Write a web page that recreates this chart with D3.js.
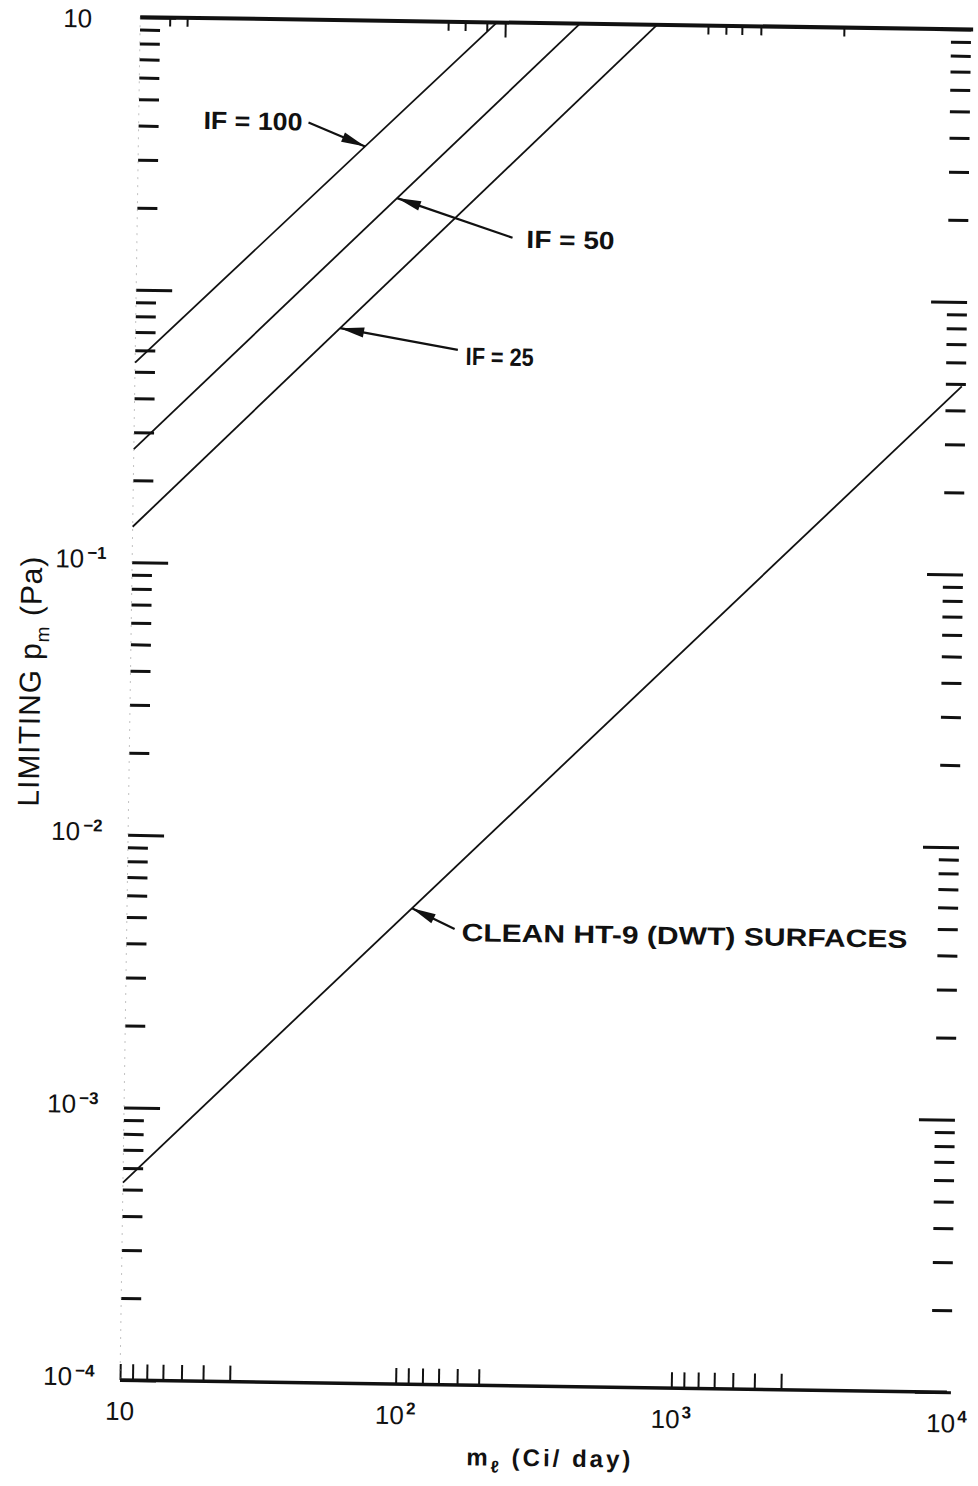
<!DOCTYPE html>
<html>
<head>
<meta charset="utf-8">
<script src="https://cdnjs.cloudflare.com/ajax/libs/d3/7.8.5/d3.min.js"></script>
<style>
body { margin: 0; background: #fff; }
svg { display: block; }
</style>
</head>
<body>
<svg id="chart" width="978" height="1486"></svg>
<script>
var W = 978, H = 1486;
var plot = { left: 120, right: 947, top: 17, bottom: 1380 };
var tilt = 0.85; // the scan sits a little crooked, so does the chart

// axis ranges
var xDomain = [10, 10000];
var yDomain = [1e-4, 10];

// tick values (the bottom paper ticks run the "wrong" way, as on the scan)
var yMajorTicks = [1e-4, 1e-3, 1e-2, 1e-1, 1, 10];
var yMinorSteps = [2, 3, 4, 5, 6, 7, 8, 9];
var xBottomTicks = [10, 11.1, 12.5, 14.3, 16.7, 20, 25,
                    100, 111, 125, 143, 167, 200,
                    1000, 1110, 1250, 1430, 1670, 2000, 2500];
var xTopTicks = [12.8, 14.8, 131, 151, 181, 1148, 1334, 1524, 1786, 3573];
var xTopLong = [211];

// tick labels
var xLabelValues = [10, 100, 1000, 10000];
var xLabelPowers = ["", "2", "3", "4"];
var yLabelValues = [10, 1e-1, 1e-2, 1e-3, 1e-4];
var yLabelPowers = ["", "\u22121", "\u22122", "\u22123", "\u22124"];

// straight lines, end points
var lineNames = ["IF = 100", "IF = 50", "IF = 25", "CLEAN HT-9 (DWT) SURFACES"];
var lineStart = [[10, 0.54], [10, 0.26], [10, 0.135], [10, 5.3e-4]];
var lineEnd = [[197, 10], [394, 10], [750, 10], [10000, 0.49]];
var arrowAt = [66.5, 87.4, 55.2, 108]; // m where each arrow touches its line

// where the callout texts sit, relative to the arrow tip
var callouts = [
    { tail: [-57, -23], text: [-63, -15], anchor: "end", len: 99 },
    { tail: [116, 38], text: [130, 48], anchor: "start", len: 88 },
    { tail: [118, 20], text: [126, 35], anchor: "start", len: 68 },
    { tail: [43, 20], text: [50, 32], anchor: "start", len: 446 }
];

var ink = "#111";
var font = "'Liberation Sans', Arial, sans-serif";

var x = d3.scaleLog().domain(xDomain).range([plot.left, plot.right]);
var y = d3.scaleLog().domain(yDomain).range([plot.bottom, plot.top]);

var svg = d3.select("#chart");
svg.append("rect").attr("width", W).attr("height", H).attr("fill", "#fff");

var g = svg.append("g")
    .attr("transform", "rotate(" + tilt + "," + plot.left + "," + plot.bottom + ")");

// minor y ticks: 2..9 in every decade
var yMinorTicks = [];
yMajorTicks.slice(0, -1).forEach(function (d) {
    yMinorSteps.forEach(function (s) { yMinorTicks.push(d * s); });
});

function tickAxis(axis, tx, ty, width) {
    var a = g.append("g")
        .attr("transform", "translate(" + tx + "," + ty + ")")
        .call(axis);
    a.select(".domain").remove();
    a.selectAll("text").remove();
    a.selectAll("line").attr("stroke", ink).attr("stroke-width", width);
    return a;
}

// left ticks point inward
tickAxis(d3.axisLeft(y).tickValues(yMinorTicks).tickSizeInner(-20).tickSizeOuter(0), plot.left, 0, 3);
tickAxis(d3.axisLeft(y).tickValues(yMajorTicks).tickSizeInner(-36).tickSizeOuter(0), plot.left, 0, 3);
// right ticks
tickAxis(d3.axisRight(y).tickValues(yMinorTicks).tickSizeInner(-20).tickSizeOuter(0), plot.right + 4, 0, 3);
tickAxis(d3.axisRight(y).tickValues(yMajorTicks).tickSizeInner(-36).tickSizeOuter(0), plot.right + 4, 0, 3);
// bottom and top ticks
tickAxis(d3.axisBottom(x).tickValues(xBottomTicks).tickSizeInner(-16).tickSizeOuter(0), 0, plot.bottom, 2);
tickAxis(d3.axisTop(x).tickValues(xTopTicks).tickSizeInner(-9).tickSizeOuter(0), 0, plot.top, 2);
tickAxis(d3.axisTop(x).tickValues(xTopLong).tickSizeInner(-15).tickSizeOuter(0), 0, plot.top, 2);

// frame: heavy top and bottom rules, a faint left edge
g.append("line")
    .attr("x1", plot.left).attr("x2", plot.right + 6)
    .attr("y1", plot.top).attr("y2", plot.top)
    .attr("stroke", ink).attr("stroke-width", 4);
g.append("line")
    .attr("x1", plot.left).attr("x2", plot.right)
    .attr("y1", plot.bottom).attr("y2", plot.bottom)
    .attr("stroke", ink).attr("stroke-width", 3.5);
g.append("line")
    .attr("x1", plot.left).attr("x2", plot.left)
    .attr("y1", plot.top).attr("y2", plot.bottom)
    .attr("stroke", "#888").attr("stroke-width", 1)
    .attr("stroke-dasharray", "2,6").attr("opacity", 0.5);

// the lines
var path = d3.line().x(function (d) { return x(d[0]); }).y(function (d) { return y(d[1]); });
lineNames.forEach(function (name, i) {
    g.append("path")
        .attr("d", path([lineStart[i], lineEnd[i]]))
        .attr("fill", "none")
        .attr("stroke", ink)
        .attr("stroke-width", 1.8);
});

function lineValue(i, m) {
    var a = lineStart[i], b = lineEnd[i];
    var t = (Math.log(m) - Math.log(a[0])) / (Math.log(b[0]) - Math.log(a[0]));
    return Math.exp(Math.log(a[1]) + t * (Math.log(b[1]) - Math.log(a[1])));
}

// callouts: leader, arrow head, text
lineNames.forEach(function (name, i) {
    var c = callouts[i];
    var tip = [x(arrowAt[i]), y(lineValue(i, arrowAt[i]))];
    var tail = [tip[0] + c.tail[0], tip[1] + c.tail[1]];
    var dx = tip[0] - tail[0], dy = tip[1] - tail[1];
    var len = Math.sqrt(dx * dx + dy * dy);
    var ux = dx / len, uy = dy / len;
    var bx = tip[0] - ux * 24, by = tip[1] - uy * 24;

    g.append("line")
        .attr("x1", tail[0]).attr("y1", tail[1])
        .attr("x2", tip[0]).attr("y2", tip[1])
        .attr("stroke", ink).attr("stroke-width", 2.2);
    g.append("path")
        .attr("d", "M" + tip[0] + "," + tip[1] +
            "L" + (bx - uy * 5) + "," + (by + ux * 5) +
            "L" + (bx + uy * 5) + "," + (by - ux * 5) + "Z")
        .attr("fill", ink);
    g.append("text")
        .attr("x", tip[0] + c.text[0])
        .attr("y", tip[1] + c.text[1])
        .attr("text-anchor", c.anchor)
        .attr("textLength", c.len)
        .attr("lengthAdjust", "spacingAndGlyphs")
        .attr("font-family", font)
        .attr("font-weight", "bold")
        .attr("font-size", 25)
        .attr("fill", ink)
        .text(name);
});

// x tick labels
xLabelValues.forEach(function (v, i) {
    var t = g.append("text")
        .attr("x", x(v))
        .attr("y", plot.bottom + 40)
        .attr("text-anchor", "middle")
        .attr("font-family", font)
        .attr("font-size", 26)
        .attr("fill", ink);
    t.append("tspan").text("10");
    if (xLabelPowers[i]) {
        t.append("tspan")
            .attr("dx", 2)
            .attr("dy", -10)
            .attr("font-size", 17)
            .attr("font-weight", "bold")
            .text(xLabelPowers[i]);
    }
});

// y tick labels
yLabelValues.forEach(function (v, i) {
    var ty = y(v) + (i === 0 ? 11 : 6);
    g.append("text")
        .attr("x", plot.left - 48)
        .attr("y", ty)
        .attr("text-anchor", "end")
        .attr("font-family", font)
        .attr("font-size", 26)
        .attr("fill", ink)
        .text("10");
    if (yLabelPowers[i]) {
        g.append("text")
            .attr("x", plot.left - 45)
            .attr("y", ty - 9)
            .attr("font-family", font)
            .attr("font-size", 17)
            .attr("font-weight", "bold")
            .attr("fill", ink)
            .text(yLabelPowers[i]);
    }
});

// axis titles
var xt = g.append("text")
    .attr("x", (plot.left + plot.right) / 2 + 16)
    .attr("y", plot.bottom + 80)
    .attr("text-anchor", "middle")
    .attr("textLength", 164)
    .attr("lengthAdjust", "spacing")
    .attr("font-family", font)
    .attr("font-weight", "bold")
    .attr("font-size", 24)
    .attr("fill", ink);
xt.append("tspan").text("m");
xt.append("tspan").attr("dy", 7).attr("font-size", 17).text("\u2113");
xt.append("tspan").attr("dy", -7).text(" (Ci/ day)");

var yt = g.append("text")
    .attr("transform", "translate(" + 30 + "," + 683 + ") rotate(-90)")
    .attr("text-anchor", "middle")
    .attr("textLength", 250)
    .attr("lengthAdjust", "spacing")
    .attr("font-family", font)
    .attr("font-size", 30)
    .attr("fill", ink);
yt.append("tspan").text("LIMITING p");
yt.append("tspan").attr("dy", 8).attr("font-size", 19).text("m");
yt.append("tspan").attr("dy", -8).text(" (Pa)");
</script>
</body>
</html>
